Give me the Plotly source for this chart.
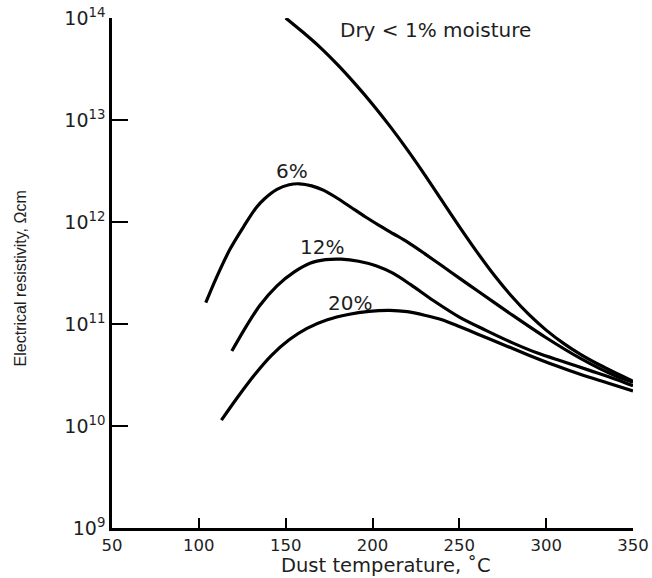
import plotly.graph_objects as go

# Dust temperature (deg C) and electrical resistivity (ohm cm) for each moisture level
dry_temp = [150, 160, 170, 180, 190, 200, 210, 220, 230, 240, 250,
            260, 270, 280, 290, 300, 310, 320, 330, 340, 350]
dry_res = [1.0e14, 7.24e13, 5.13e13, 3.47e13, 2.26e13, 1.43e13, 8.71e12, 5.13e12, 2.92e12, 1.62e12, 9.02e11,
           5.13e11, 3.02e11, 1.88e11, 1.24e11, 8.71e10, 6.46e10, 5.01e10, 4.03e10, 3.31e10, 2.75e10]

m6_temp = [104, 110, 118, 126, 133, 138, 145, 152, 158, 165, 172, 180, 188, 196,
           204, 212, 220, 230, 240, 250, 260, 280, 300, 320, 340, 350]
m6_res = [1.62e11, 2.82e11, 5.43e11, 9.12e11, 1.38e12, 1.70e12, 2.09e12, 2.32e12, 2.37e12, 2.26e12, 2.04e12,
          1.70e12, 1.38e12, 1.12e12, 9.23e11, 7.67e11, 6.38e11, 4.90e11, 3.72e11, 2.82e11, 2.14e11,
          1.24e11, 7.33e10, 4.57e10, 3.09e10, 2.69e10]

m12_temp = [119, 126, 135, 145, 155, 164, 173, 182, 192, 202, 212, 222,
            235, 250, 265, 280, 295, 310, 325, 340, 350]
m12_res = [5.43e10, 8.71e10, 1.51e11, 2.37e11, 3.24e11, 3.94e11, 4.27e11, 4.32e11, 4.12e11, 3.72e11, 3.13e11,
           2.43e11, 1.70e11, 1.17e11, 8.71e10, 6.61e10, 5.19e10, 4.27e10, 3.51e10, 2.88e10, 2.48e10]

m20_temp = [113, 122, 132, 142, 152, 162, 174, 186, 198, 210, 220, 230,
            240, 250, 260, 275, 290, 305, 320, 335, 350]
m20_res = [1.14e10, 1.88e10, 3.16e10, 4.95e10, 7.00e10, 9.02e10, 1.10e11, 1.24e11, 1.33e11, 1.36e11, 1.32e11,
           1.22e11, 1.10e11, 9.44e10, 8.04e10, 6.31e10, 4.95e10, 3.94e10, 3.20e10, 2.66e10, 2.21e10]

x_ticks = [50, 100, 150, 200, 250, 300, 350]
y_ticks = [1e9, 1e10, 1e11, 1e12, 1e13, 1e14]
y_tick_text = ["10<sup>9</sup>", "10<sup>10</sup>", "10<sup>11</sup>",
               "10<sup>12</sup>", "10<sup>13</sup>", "10<sup>14</sup>"]

# Curve labels: (text, temperature, resistivity exponent)
curve_labels = [
    ("Dry < 1% moisture", 236, 13.886),
    ("6%", 153.8, 12.498),
    ("12%", 170.8, 11.755),
    ("20%", 187.1, 11.207),
]

TEXT = "#1e1e1e"
FONT = "DejaVu Sans"

fig = go.Figure()
for tx, ry in [(dry_temp, dry_res), (m6_temp, m6_res), (m12_temp, m12_res), (m20_temp, m20_res)]:
    fig.add_trace(go.Scatter(
        x=tx, y=ry, mode="lines",
        line=dict(color="black", width=3.2, shape="spline", smoothing=0.8),
        showlegend=False, hoverinfo="skip",
    ))

for text, tx, ly in curve_labels:
    fig.add_annotation(x=tx, y=ly, xref="x", yref="y", text=text, showarrow=False,
                       font=dict(family=FONT, size=20, color=TEXT),
                       xanchor="center", yanchor="middle")

# Axis titles
fig.add_annotation(x=0.525, y=-0.073, xref="paper", yref="paper",
                   text="Dust temperature, ˚C", showarrow=False,
                   font=dict(family=FONT, size=19.5, color=TEXT),
                   xanchor="center", yanchor="middle")
fig.add_annotation(x=-0.176, y=0.49, xref="paper", yref="paper",
                   text="Electrical resistivity, Ωcm", showarrow=False, textangle=-90,
                   font=dict(family="Liberation Sans", size=16, color=TEXT),
                   xanchor="center", yanchor="middle")

fig.update_layout(
    width=652, height=578,
    margin=dict(l=112, r=19, t=18, b=50),
    paper_bgcolor="white", plot_bgcolor="white",
    font=dict(family=FONT, color=TEXT),
)
fig.update_xaxes(
    range=[50, 350], tickvals=x_ticks, ticktext=[str(v) for v in x_ticks],
    ticks="inside", ticklen=10, tickwidth=2, tickcolor="black",
    showline=True, linewidth=2.5, linecolor="black",
    showgrid=False, zeroline=False, automargin=False,
    tickfont=dict(family=FONT, size=16.5, color=TEXT),
)
fig.update_yaxes(
    type="log", range=[9, 14], tickvals=y_ticks, ticktext=y_tick_text,
    ticks="inside", ticklen=16, tickwidth=2, tickcolor="black",
    showline=True, linewidth=2.5, linecolor="black",
    showgrid=False, zeroline=False, automargin=False,
    tickfont=dict(family=FONT, size=19, color=TEXT),
)

fig.write_html("out.html")
